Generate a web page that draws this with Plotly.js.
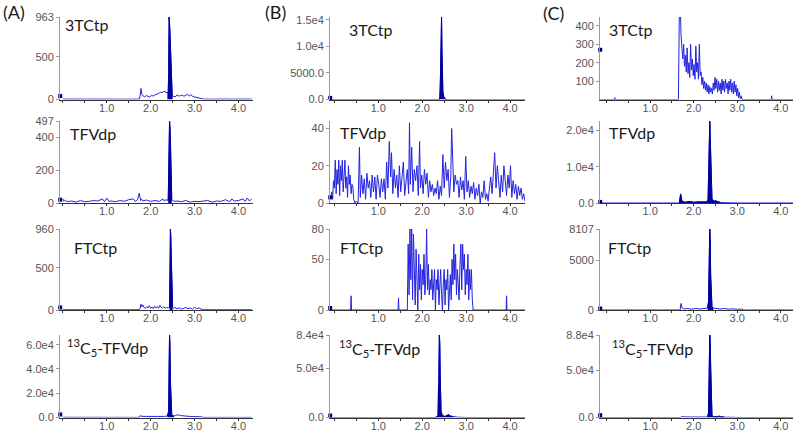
<!DOCTYPE html>
<html><head><meta charset="utf-8">
<script src="https://cdn.plot.ly/plotly-3.0.1.min.js"></script>
<style>html,body{margin:0;padding:0;background:#fff}#chart{width:800px;height:431px}</style>
</head><body><div id="chart"></div>
<script>
// ---------- DATA (retention time, min / intensity, cps) ----------
const columnLabels = ['(A)', '(B)', '(C)'];
const analytes = ['3TCtp', 'TFVdp', 'FTCtp', '<sup>13</sup>C<sub>5</sub>-TFVdp'];
const xTickVals = [1, 2, 3, 4];
const xTickText = ['1.0', '2.0', '3.0', '4.0'];

// Column A
const A1_t = [0.00,0.20,0.40,0.50,0.60,0.80,1.00,1.20,1.40,1.60,1.74,1.76,1.78,1.80,1.83,1.86,1.90,1.94,1.98,2.02,2.06,2.10,2.14,2.18,2.22,2.26,2.30,2.34,2.38,2.40,2.41,2.42,2.43,2.44,2.45,2.46,2.47,2.48,2.49,2.50,2.53,2.56,2.60,2.64,2.68,2.72,2.76,2.80,2.84,2.88,2.92,2.96,3.00,3.05,3.10,3.15,3.20,3.40,3.50,3.52,3.54,3.70,3.72,3.74,4.00,4.30];
const A1_y = [5,4,6,10,4,5,4,6,5,4,5,40,130,60,40,30,45,35,30,50,40,55,60,70,85,80,95,85,80,90,300,963,900,780,620,400,200,60,50,40,35,30,55,40,45,50,38,50,60,40,55,35,30,25,20,15,5,4,5,12,5,5,10,4,5,5];
const A1_yticks = [0, 500, 963], A1_ytext = ['0', '500', '963'];

const A2_t = [0.00,0.03,0.06,0.10,0.20,0.30,0.40,0.50,0.60,0.70,0.80,0.90,0.95,1.00,1.05,1.10,1.20,1.30,1.40,1.50,1.60,1.65,1.70,1.74,1.77,1.79,1.82,1.90,2.00,2.10,2.20,2.28,2.31,2.35,2.40,2.42,2.43,2.44,2.45,2.46,2.47,2.48,2.50,2.55,2.60,2.70,2.80,2.90,3.00,3.10,3.20,3.30,3.40,3.50,3.60,3.70,3.80,3.85,3.90,4.00,4.10,4.15,4.20,4.25,4.30];
const A2_y = [25,10,18,8,12,5,15,8,10,15,12,25,8,30,10,12,8,15,10,20,25,10,20,60,15,25,12,18,10,15,10,25,12,20,15,300,497,460,380,200,60,20,15,10,12,8,15,5,10,8,12,15,5,12,10,20,8,25,12,15,25,10,30,12,25];
const A2_yticks = [0, 200, 400, 497], A2_ytext = ['0', '200', '400', '497'];

const A3_t = [0.00,0.30,0.40,0.42,0.50,1.00,1.50,1.74,1.76,1.78,1.80,1.82,1.85,1.88,1.91,1.94,1.97,2.00,2.03,2.06,2.09,2.12,2.15,2.18,2.21,2.24,2.27,2.30,2.33,2.36,2.40,2.43,2.44,2.45,2.46,2.47,2.48,2.49,2.50,2.52,2.55,2.60,2.65,2.70,2.75,2.80,2.85,2.90,2.95,3.00,3.05,3.10,3.15,3.20,3.50,4.00,4.25,4.27,4.30];
const A3_y = [3,3,3,8,3,3,3,3,20,70,40,60,30,20,40,25,50,20,35,15,45,25,40,20,55,30,25,40,20,30,25,30,280,960,850,600,270,80,30,20,30,15,25,10,20,30,15,25,10,30,15,25,10,3,3,3,3,6,3];
const A3_yticks = [0, 500, 960], A3_ytext = ['0', '500', '960'];

const A4_t = [0.00,0.50,1.00,1.50,1.74,1.76,1.80,1.90,2.00,2.10,2.20,2.30,2.38,2.41,2.42,2.43,2.44,2.45,2.46,2.47,2.48,2.50,2.53,2.57,2.62,2.68,2.75,2.85,2.95,3.05,3.15,3.20,3.50,4.00,4.30];
const A4_y = [200,100,100,100,100,1500,1000,900,800,700,800,900,1200,5000,42000,68000,60000,30000,12000,5000,2500,1500,1200,1800,2200,1600,1200,1000,800,900,600,100,100,100,100];
const A4_yticks = [0, 20000, 40000, 60000], A4_ytext = ['0.0', '2.0e4', '4.0e4', '6.0e4'];

// Column B
const B1_t = [-0.10,0.00,1.00,2.00,2.38,2.40,2.41,2.42,2.43,2.44,2.45,2.46,2.47,2.49,2.51,2.55,3.00,4.00,4.34];
const B1_y = [0,0,0,0,0,300,2000,6000,10500,15500,9000,4000,1500,500,200,0,0,0,0];
const B1_yticks = [0, 5000, 10000, 15000], B1_ytext = ['0.0', '5000.0', '1.0e4', '1.5e4'];

const B2_t = [-0.08,-0.06,-0.04,-0.02,0.00,0.02,0.04,0.06,0.08,0.10,0.12,0.14,0.16,0.18,0.20,0.22,0.24,0.26,0.28,0.30,0.32,0.34,0.36,0.38,0.40,0.42,0.44,0.47,0.50,0.54,0.57,0.59,0.62,0.65,0.68,0.71,0.74,0.77,0.80,0.83,0.86,0.89,0.92,0.95,0.98,1.01,1.04,1.07,1.10,1.13,1.16,1.19,1.22,1.25,1.28,1.30,1.33,1.36,1.39,1.42,1.45,1.48,1.51,1.54,1.57,1.60,1.63,1.66,1.69,1.71,1.73,1.76,1.79,1.82,1.85,1.88,1.91,1.94,1.96,1.99,2.02,2.05,2.08,2.11,2.14,2.17,2.20,2.23,2.26,2.29,2.32,2.35,2.38,2.41,2.44,2.47,2.50,2.53,2.56,2.59,2.62,2.65,2.67,2.69,2.72,2.75,2.78,2.81,2.84,2.87,2.90,2.93,2.96,2.99,3.02,3.05,3.08,3.11,3.14,3.17,3.20,3.23,3.26,3.29,3.32,3.35,3.38,3.41,3.44,3.47,3.50,3.53,3.56,3.59,3.62,3.65,3.68,3.71,3.74,3.77,3.80,3.83,3.86,3.89,3.92,3.95,3.98,4.01,4.04,4.07,4.10,4.13,4.16,4.19,4.22,4.25,4.28,4.31,4.34];
const B2_y = [3,6,2,12,8,23,5,18,10,23,4,20,12,23,6,16,23,8,14,3,20,10,15,5,10,9,2,0,1,0,30,3,15,5,13,2,16,8,12,3,15,6,14,2,15,10,3,13,6,13,2,22,8,33,14,27,5,18,8,15,3,20,6,14,22,4,10,18,5,43,10,30,6,18,12,20,4,33,8,15,5,18,10,16,3,12,6,10,4,8,5,12,2,9,4,26,8,22,12,18,3,14,40,28,6,15,10,12,3,14,7,12,2,25,6,12,3,9,5,11,2,8,4,10,0,6,3,12,2,5,1,8,14,5,15,27,8,20,12,3,15,6,20,10,4,15,8,20,3,12,5,10,2,9,4,8,2,5,1];
const B2_yticks = [0, 20, 40], B2_ytext = ['0', '20', '40'];

const B3_t = [-0.10,0.37,0.38,0.39,1.45,1.46,1.47,1.66,1.68,1.70,1.72,1.74,1.76,1.78,1.80,1.82,1.84,1.86,1.88,1.90,1.92,1.94,1.96,1.98,2.00,2.02,2.04,2.06,2.08,2.10,2.12,2.14,2.16,2.18,2.20,2.22,2.24,2.26,2.28,2.30,2.32,2.34,2.36,2.38,2.40,2.42,2.44,2.46,2.48,2.50,2.52,2.54,2.56,2.58,2.60,2.62,2.64,2.66,2.68,2.70,2.72,2.74,2.76,2.78,2.80,2.82,2.84,2.86,2.88,2.90,2.92,2.94,2.96,2.98,3.00,3.02,3.04,3.06,3.08,3.10,3.12,3.14,3.16,3.91,3.92,3.93,4.34];
const B3_y = [0,0,14,0,0,12,0,0,65,15,80,30,80,10,75,40,5,60,25,0,55,20,45,10,40,25,55,15,30,80,20,45,15,30,20,40,10,25,40,0,30,20,40,5,25,40,15,0,25,40,5,30,20,40,0,20,35,10,50,25,65,30,55,15,40,25,10,45,65,20,65,40,55,15,40,25,55,10,40,20,40,10,0,0,14,0,0];
const B3_yticks = [0, 50, 80], B3_ytext = ['0', '50', '80'];

const B4_t = [-0.10,0.50,1.00,1.50,1.85,1.90,1.95,2.30,2.36,2.37,2.38,2.39,2.40,2.41,2.42,2.43,2.45,2.48,2.52,2.56,2.60,2.64,2.70,2.80,3.00,4.34];
const B4_y = [0,0,0,0,0,500,0,0,2000,30000,35000,84000,75000,40000,15000,6000,3000,1500,1000,2000,3000,1500,800,400,0,0];
const B4_yticks = [0, 50000, 84000], B4_ytext = ['0.0', '5.0e4', '8.4e4'];

// Column C
const C1_t = [-0.15,0.18,0.19,0.20,1.65,1.66,1.67,1.68,1.69,1.70,1.71,1.73,1.75,1.77,1.79,1.81,1.83,1.85,1.87,1.89,1.91,1.93,1.95,1.97,1.99,2.01,2.03,2.05,2.07,2.09,2.11,2.13,2.15,2.17,2.19,2.21,2.23,2.25,2.27,2.29,2.31,2.33,2.35,2.37,2.39,2.41,2.43,2.45,2.47,2.49,2.51,2.53,2.55,2.57,2.59,2.61,2.63,2.65,2.67,2.69,2.71,2.73,2.75,2.77,2.79,2.81,2.83,2.85,2.87,2.89,2.91,2.93,2.95,2.97,2.99,3.01,3.03,3.05,3.07,3.09,3.11,3.13,3.15,3.78,3.79,3.80,4.28];
const C1_y = [0,0,10,0,0,448,448,448,448,448,350,260,220,300,180,240,150,280,140,200,120,300,160,220,130,190,110,290,150,200,110,300,130,150,80,120,60,100,50,90,40,80,30,70,40,60,30,90,50,120,60,110,40,100,50,90,30,110,50,100,40,110,60,90,30,100,50,110,40,90,30,100,40,80,20,60,10,40,5,20,0,0,0,0,20,0,0];
const C1_yticks = [100, 200, 300, 400], C1_ytext = ['100', '200', '300', '400'];

const C2_t = [-0.15,0.50,1.00,1.50,1.67,1.69,1.70,1.71,1.73,1.76,1.80,1.90,2.00,2.10,2.20,2.30,2.33,2.34,2.35,2.36,2.37,2.38,2.39,2.40,2.41,2.42,2.44,2.47,2.50,2.55,2.60,2.70,3.00,4.28];
const C2_y = [0,0,0,0,0,1500,2500,2000,500,300,200,400,200,300,200,300,1000,8000,15000,14000,22500,18000,12000,6000,2500,1200,800,500,600,300,200,100,0,0];
const C2_yticks = [0, 10000, 20000], C2_ytext = ['0.0', '1.0e4', '2.0e4'];

const C3_t = [-0.15,0.50,1.00,1.50,1.69,1.70,1.71,1.72,1.74,1.78,1.85,1.95,2.05,2.15,2.25,2.32,2.34,2.35,2.36,2.37,2.38,2.39,2.40,2.41,2.42,2.45,2.50,2.60,2.70,2.80,2.90,3.00,3.10,3.15,4.28];
const C3_y = [0,0,0,0,0,400,650,400,200,100,150,80,150,100,150,200,800,3000,6000,8107,7000,3500,1500,600,300,200,150,100,150,80,120,60,100,0,0];
const C3_yticks = [0, 5000, 8107], C3_ytext = ['0', '5000', '8107'];

const C4_t = [-0.15,0.50,1.00,1.50,1.70,1.72,1.75,1.85,2.00,2.20,2.32,2.34,2.35,2.36,2.37,2.38,2.39,2.40,2.41,2.42,2.45,2.50,2.55,2.58,2.62,2.70,2.80,3.00,3.10,4.28];
const C4_y = [0,0,0,0,0,1200,800,600,400,300,500,5000,30000,60000,88000,80000,55000,20000,6000,2000,800,500,800,1500,800,400,300,200,0,0];
const C4_yticks = [0, 50000, 88000], C4_ytext = ['0.0', '5.0e4', '8.8e4'];

// small instrument marker at the start of each trace (intensity)
const startMarks = [40, 20, 30, 2500, 300, 3, 2, 2000, 270, 300, 150, 2500];

// ---------- LAYOUT / DRAWING ----------
const W = 800, H = 431;
const colX = [[60, 253], [330, 525], [600, 793]];
const colRange = [[-0.064, 4.33], [-0.1, 4.34], [-0.15, 4.28]];
const rowY = [[17, 99.5], [121, 203], [229, 310], [335, 417.5]];
const panels = [
  {t: A1_t, y: A1_y, tv: A1_yticks, tt: A1_ytext, top: 963, fill: [2.38, 2.50]},
  {t: A2_t, y: A2_y, tv: A2_yticks, tt: A2_ytext, top: 497, fill: [2.40, 2.49]},
  {t: A3_t, y: A3_y, tv: A3_yticks, tt: A3_ytext, top: 960, fill: [2.42, 2.50]},
  {t: A4_t, y: A4_y, tv: A4_yticks, tt: A4_ytext, top: 68000, fill: [2.38, 2.53]},
  {t: B1_t, y: B1_y, tv: B1_yticks, tt: B1_ytext, top: 15500, fill: [2.38, 2.55]},
  {t: B2_t, y: B2_y, tv: B2_yticks, tt: B2_ytext, top: 44, fill: null},
  {t: B3_t, y: B3_y, tv: B3_yticks, tt: B3_ytext, top: 80, fill: null},
  {t: B4_t, y: B4_y, tv: B4_yticks, tt: B4_ytext, top: 84000, fill: [2.30, 2.70]},
  {t: C1_t, y: C1_y, tv: C1_yticks, tt: C1_ytext, top: 448, fill: null},
  {t: C2_t, y: C2_y, tv: C2_yticks, tt: C2_ytext, top: 22600, fill: [1.67, 2.60]},
  {t: C3_t, y: C3_y, tv: C3_yticks, tt: C3_ytext, top: 8107, fill: [2.30, 2.45]},
  {t: C4_t, y: C4_y, tv: C4_yticks, tt: C4_ytext, top: 88000, fill: [2.30, 2.70]}
];
const titlePos = [
  [[63, 24], [68, 133], [72, 247], [65, 347]],
  [[347, 30], [338, 132], [338, 247], [337, 348]],
  [[607, 30], [607, 132], [606, 247], [610, 348]]
];
const letterPos = [[1, 12], [263, 12], [541, 13]];

const tickFont = {family: 'Liberation Sans, Arial, sans-serif', size: 11, color: '#555'};
const titleFont = {family: 'Lato, Open Sans, sans-serif', size: 16, color: '#1a1a1a'};
const lineColor = '#2323e0';
const peakColor = '#00009c';

const traces = [];
const layout = {
  width: W, height: H, margin: {l: 0, r: 0, t: 0, b: 0},
  paper_bgcolor: '#fff', plot_bgcolor: '#fff', showlegend: false,
  annotations: []
};

panels.forEach((p, i) => {
  const c = Math.floor(i / 4), r = i % 4, k = i + 1;
  const xa = 'x' + (k === 1 ? '' : k), ya = 'y' + (k === 1 ? '' : k);
  traces.push({x: p.t, y: p.y, xaxis: xa, yaxis: ya, type: 'scatter', mode: 'lines',
    line: {color: lineColor, width: 1}, hoverinfo: 'skip'});
  if (p.fill) {
    const ft = [], fy = [];
    p.t.forEach((tv, j) => { if (tv >= p.fill[0] && tv <= p.fill[1]) { ft.push(tv); fy.push(p.y[j]); } });
    traces.push({x: ft, y: fy, xaxis: xa, yaxis: ya, type: 'scatter', mode: 'lines', fill: 'tozeroy',
      fillcolor: peakColor, line: {color: peakColor, width: 1}, hoverinfo: 'skip'});
  }
  traces.push({x: [colRange[c][0] + 0.005], y: [startMarks[i]], xaxis: xa, yaxis: ya, type: 'scatter', mode: 'markers',
    marker: {symbol: 'square', size: 4, color: '#000070'}, cliponaxis: false, hoverinfo: 'skip'});

  layout['xaxis' + (k === 1 ? '' : k)] = {
    domain: [colX[c][0] / W, colX[c][1] / W], range: colRange[c], anchor: ya,
    showline: true, linecolor: '#333', linewidth: 1, ticks: 'outside', ticklen: 2, tickcolor: '#333',
    tickmode: 'array', tickvals: xTickVals, ticktext: xTickText, tickfont: tickFont,
    ticklabelstandoff: -4,
    showgrid: false, zeroline: false, fixedrange: true,
    minor: {tickmode: 'linear', tick0: 0, dtick: 0.5, ticks: 'outside', ticklen: 2, tickcolor: '#333', showgrid: false}
  };
  layout['yaxis' + (k === 1 ? '' : k)] = {
    domain: [1 - rowY[r][1] / H, 1 - rowY[r][0] / H], range: [0, p.top], anchor: xa,
    showline: true, linecolor: '#9a9a9a', linewidth: 1, ticks: 'outside', ticklen: 3, tickcolor: '#9a9a9a',
    tickmode: 'array', tickvals: p.tv, ticktext: p.tt, tickfont: tickFont,
    showgrid: false, zeroline: false, fixedrange: true
  };
  const tp = titlePos[c][r];
  layout.annotations.push({text: analytes[r], xref: 'paper', yref: 'paper', x: tp[0] / W, y: 1 - tp[1] / H,
    xanchor: 'left', yanchor: 'middle', showarrow: false, font: titleFont});
});
columnLabels.forEach((lab, c) => {
  layout.annotations.push({text: lab, xref: 'paper', yref: 'paper', x: letterPos[c][0] / W, y: 1 - letterPos[c][1] / H,
    xanchor: 'left', yanchor: 'middle', showarrow: false,
    font: {family: 'Lato, Open Sans, sans-serif', size: 18, color: '#1a1a1a'}});
});

Plotly.newPlot('chart', traces, layout, {staticPlot: true, displayModeBar: false});
</script>
</body></html>
